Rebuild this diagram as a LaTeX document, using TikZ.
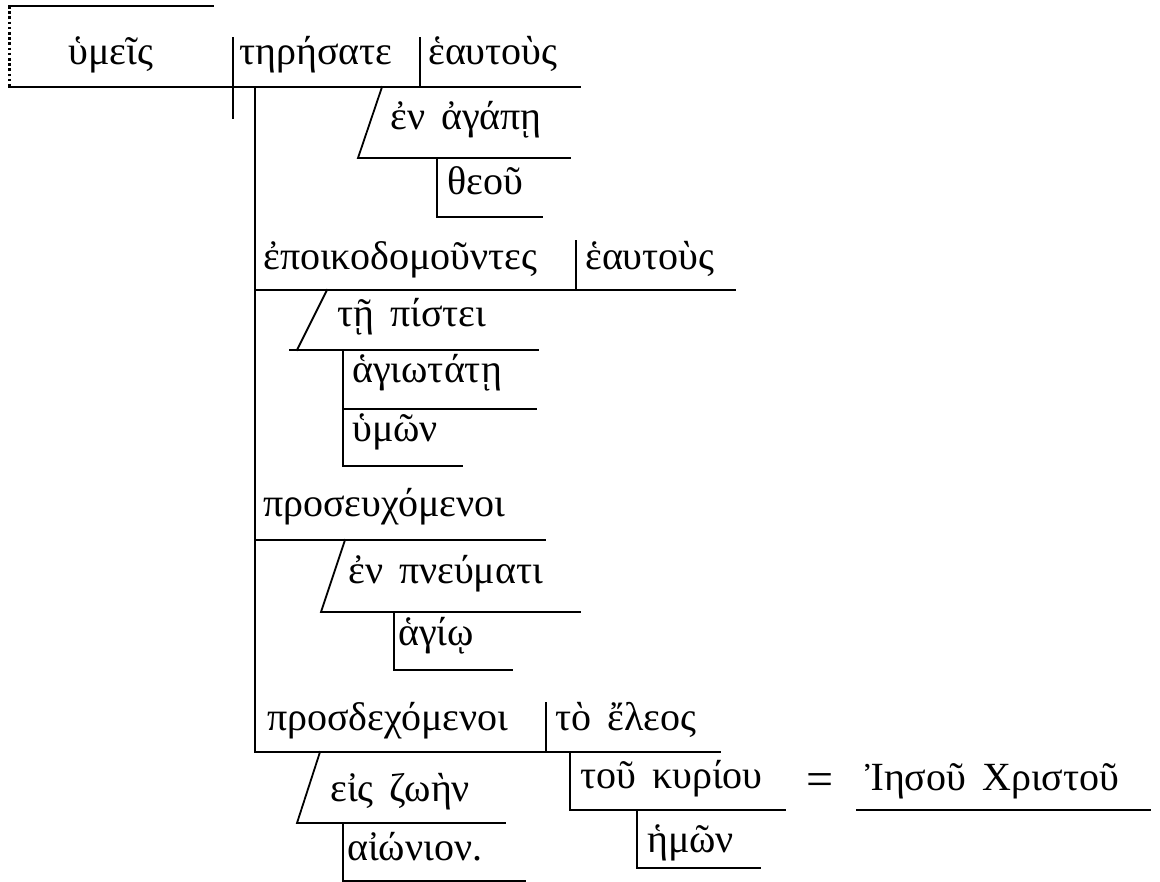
\documentclass[tikz,border=0pt]{standalone}
\usepackage{fontspec}
\setmainfont{Liberation Serif}
\newfontfamily\grk[WordSpace=1.6]{Liberation Serif}
\tikzset{
  word/.style={anchor=base west, inner sep=0pt, font=\grk\fontsize{40}{46}\selectfont},
  rule/.style={line width=1.8pt, line cap=rect},
  dotrule/.style={line width=3pt, dash pattern=on 2.6pt off 2.6pt}
}
\begin{document}
\begin{tikzpicture}[x=1pt,y=-1pt]
\useasboundingbox (0,0) rectangle (1160,882);
\coordinate (tl) at (9,6);
\coordinate (tr) at (213,6);
\coordinate (ml) at (9,87);
\coordinate (mr) at (580,87);
\coordinate (svt) at (233,38);
\coordinate (svb) at (233,118);
\coordinate (vot) at (420,38);
\coordinate (vob) at (420,87);
\coordinate (st) at (255,87);
\coordinate (sb) at (255,752);
\coordinate (p1t) at (382,87);
\coordinate (p1b) at (358,158);
\coordinate (p1r) at (570,158);
\coordinate (t1t) at (437,158);
\coordinate (t1b) at (437,217);
\coordinate (t1r) at (542,217);
\coordinate (e0) at (255,290);
\coordinate (e1) at (735,290);
\coordinate (eot) at (576,241);
\coordinate (eob) at (576,290);
\coordinate (p2t) at (327,290);
\coordinate (p2b) at (297,350);
\coordinate (p2l) at (290,350);
\coordinate (p2r) at (538,350);
\coordinate (a1t) at (343,350);
\coordinate (a1m) at (343,409);
\coordinate (a1r) at (536,409);
\coordinate (a1b) at (343,466);
\coordinate (h1r) at (462,466);
\coordinate (r0) at (255,540);
\coordinate (r1) at (545,540);
\coordinate (p3t) at (345,540);
\coordinate (p3b) at (321,612);
\coordinate (p3r) at (580,612);
\coordinate (g1t) at (394,612);
\coordinate (g1b) at (394,670);
\coordinate (g1r) at (512,670);
\coordinate (d1) at (720,752);
\coordinate (dot) at (546,703);
\coordinate (dob) at (546,752);
\coordinate (p4t) at (320,752);
\coordinate (p4b) at (297,823);
\coordinate (p4r) at (505,823);
\coordinate (n1t) at (343,823);
\coordinate (n1b) at (343,881);
\coordinate (n1r) at (525,881);
\coordinate (k1t) at (570,752);
\coordinate (k1b) at (570,810);
\coordinate (k1r) at (785,810);
\coordinate (i0) at (857,810);
\coordinate (i1) at (1150,810);
\coordinate (q1t) at (637,810);
\coordinate (q1b) at (637,868);
\coordinate (q1r) at (760,868);

\node[word] (subj) at (68,65) {ὑμεῖς};
\node[word] (verb) at (239,65) {τηρήσατε};
\node[word] (obj) at (428,65) {ἑαυτοὺς};
\node[word] (agape) at (390,130) {ἐν ἀγάπῃ};
\node[word] (theou) at (447,195) {θεοῦ};
\node[word] (epoik) at (263,270) {ἐποικοδομοῦντες};
\node[word] (objb) at (585,270) {ἑαυτοὺς};
\node[word] (pistei) at (337,327) {τῇ πίστει};
\node[word] (hagiot) at (352,383) {ἁγιωτάτῃ};
\node[word] (hymon) at (352,442) {ὑμῶν};
\node[word] (proseuch) at (263,517) {προσευχόμενοι};
\node[word] (pneum) at (348,583) {ἐν πνεύματι};
\node[word] (hagio) at (398,645) {ἁγίῳ};
\node[word] (prosdech) at (267,730) {προσδεχόμενοι};
\node[word] (eleos) at (555,730) {τὸ ἔλεος};
\node[word] (kyriou) at (580,788) {τοῦ κυρίου};
\node[word, anchor=base, font=\grk\fontsize{48}{52}\selectfont] (eq) at (820,795) {=};
\node[word] (iesou) at (865,790) {Ἰησοῦ Χριστοῦ};
\node[word] (hemon) at (647,852) {ἡμῶν};
\node[word] (zoen) at (330,801) {εἰς ζωὴν};
\node[word] (aionion) at (347,860) {αἰώνιον.};

\draw[rule] (tl) -- (tr);
\draw[dotrule] (tl) -- (ml);
\draw[rule] (ml) -- (mr);
\draw[rule] (svt) -- (svb);
\draw[rule] (vot) -- (vob);
\draw[rule] (st) -- (sb) -- (d1);
\draw[rule] (p1t) -- (p1b) -- (p1r);
\draw[rule] (t1t) -- (t1b) -- (t1r);
\draw[rule] (e0) -- (e1);
\draw[rule] (eot) -- (eob);
\draw[rule] (p2t) -- (p2b);
\draw[rule] (p2l) -- (p2r);
\draw[rule] (a1t) -- (a1b) -- (h1r);
\draw[rule] (a1m) -- (a1r);
\draw[rule] (r0) -- (r1);
\draw[rule] (p3t) -- (p3b) -- (p3r);
\draw[rule] (g1t) -- (g1b) -- (g1r);
\draw[rule] (dot) -- (dob);
\draw[rule] (p4t) -- (p4b) -- (p4r);
\draw[rule] (n1t) -- (n1b) -- (n1r);
\draw[rule] (k1t) -- (k1b) -- (k1r);
\draw[rule] (i0) -- (i1);
\draw[rule] (q1t) -- (q1b) -- (q1r);
\end{tikzpicture}
\end{document}
